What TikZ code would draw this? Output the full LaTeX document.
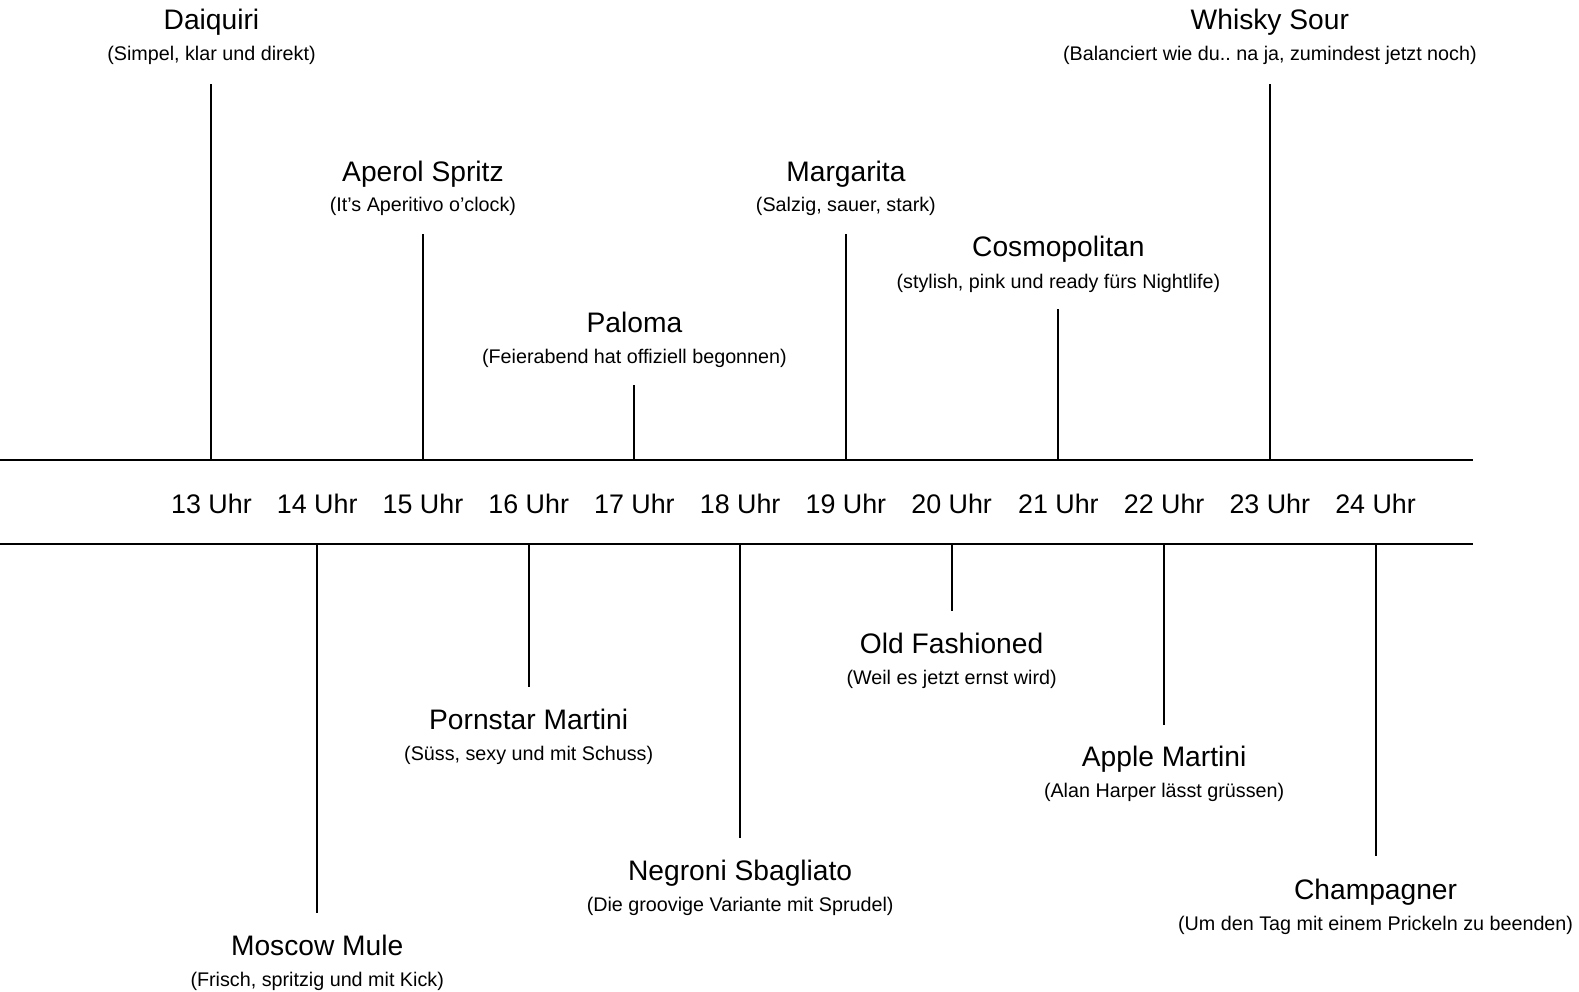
\documentclass[tikz,border=0pt]{standalone}
\usepackage{fontspec}
\setmainfont{Liberation Sans}
\frenchspacing
\begin{document}
\begin{tikzpicture}[x=0.75pt,y=-0.75pt,line width=1.5pt,
  drink/.style={anchor=base,inner sep=0pt,font=\fontsize{21}{25}\selectfont},
  note/.style={anchor=base,inner sep=0pt,font=\fontsize{14.7}{18}\selectfont},
  hour/.style={anchor=base,inner sep=0pt,font=\fontsize{20}{24}\selectfont}]
\useasboundingbox (0,0) rectangle (1568,985);

% time axis
\coordinate (al) at (0,457);
\coordinate (ar) at (1463,457);
\coordinate (bl) at (0,540);
\coordinate (br) at (1463,540);
\draw (al) -- (ar);
\draw (bl) -- (br);

\node[hour] (h13) at (210,509.5) {13 Uhr};
\node[hour] (h14) at (315,509.5) {14 Uhr};
\node[hour] (h15) at (420,509.5) {15 Uhr};
\node[hour] (h16) at (525,509.5) {16 Uhr};
\node[hour] (h17) at (630,509.5) {17 Uhr};
\node[hour] (h18) at (735,509.5) {18 Uhr};
\node[hour] (h19) at (840,509.5) {19 Uhr};
\node[hour] (h20) at (945,509.5) {20 Uhr};
\node[hour] (h21) at (1051,509.5) {21 Uhr};
\node[hour] (h22) at (1156,509.5) {22 Uhr};
\node[hour] (h23) at (1261,509.5) {23 Uhr};
\node[hour] (h24) at (1366,509.5) {24 Uhr};

% drinks above
\node[drink] (daiquiri) at (210,29) {Daiquiri};
\node[note] (daiquiri-n) at (210,60) {(Simpel, klar und direkt)};
\coordinate (daiquiri-a) at (210,457);
\coordinate (daiquiri-e) at (210,83);
\draw (daiquiri-a) -- (daiquiri-e);

\node[drink] (aperol) at (420,180) {Aperol Spritz};
\node[note] (aperol-n) at (420,210) {(It’s Aperitivo o’clock)};
\coordinate (aperol-a) at (420,457);
\coordinate (aperol-e) at (420,232);
\draw (aperol-a) -- (aperol-e);

\node[drink] (paloma) at (630,330) {Paloma};
\node[note] (paloma-n) at (630,361) {(Feierabend hat offiziell begonnen)};
\coordinate (paloma-a) at (630,457);
\coordinate (paloma-e) at (630,382);
\draw (paloma-a) -- (paloma-e);

\node[drink] (margarita) at (840,180) {Margarita};
\node[note] (margarita-n) at (840,210) {(Salzig, sauer, stark)};
\coordinate (margarita-a) at (840,457);
\coordinate (margarita-e) at (840,232);
\draw (margarita-a) -- (margarita-e);

\node[drink] (cosmo) at (1051,255) {Cosmopolitan};
\node[note] (cosmo-n) at (1051,286) {(stylish, pink und ready fürs Nightlife)};
\coordinate (cosmo-a) at (1051,457);
\coordinate (cosmo-e) at (1051,307);
\draw (cosmo-a) -- (cosmo-e);

\node[drink] (whisky) at (1261,29) {Whisky Sour};
\node[note] (whisky-n) at (1261,60) {(Balanciert wie du.. na ja, zumindest jetzt noch)};
\coordinate (whisky-a) at (1261,457);
\coordinate (whisky-e) at (1261,83);
\draw (whisky-a) -- (whisky-e);

% drinks below
\node[drink] (mule) at (315,949) {Moscow Mule};
\node[note] (mule-n) at (315,980) {(Frisch, spritzig und mit Kick)};
\coordinate (mule-a) at (315,540);
\coordinate (mule-e) at (315,907);
\draw (mule-a) -- (mule-e);

\node[drink] (pornstar) at (525,724) {Pornstar Martini};
\node[note] (pornstar-n) at (525,755) {(Süss, sexy und mit Schuss)};
\coordinate (pornstar-a) at (525,540);
\coordinate (pornstar-e) at (525,682);
\draw (pornstar-a) -- (pornstar-e);

\node[drink] (negroni) at (735,874) {Negroni Sbagliato};
\node[note] (negroni-n) at (735,905) {(Die groovige Variante mit Sprudel)};
\coordinate (negroni-a) at (735,540);
\coordinate (negroni-e) at (735,832);
\draw (negroni-a) -- (negroni-e);

\node[drink] (oldfash) at (945,649) {Old Fashioned};
\node[note] (oldfash-n) at (945,680) {(Weil es jetzt ernst wird)};
\coordinate (oldfash-a) at (945,540);
\coordinate (oldfash-e) at (945,607);
\draw (oldfash-a) -- (oldfash-e);

\node[drink] (apple) at (1156,761) {Apple Martini};
\node[note] (apple-n) at (1156,792) {(Alan Harper lässt grüssen)};
\coordinate (apple-a) at (1156,540);
\coordinate (apple-e) at (1156,720);
\draw (apple-a) -- (apple-e);

\node[drink] (champ) at (1366,893) {Champagner};
\node[note] (champ-n) at (1366,924) {(Um den Tag mit einem Prickeln zu beenden)};
\coordinate (champ-a) at (1366,540);
\coordinate (champ-e) at (1366,850);
\draw (champ-a) -- (champ-e);
\end{tikzpicture}
\end{document}
